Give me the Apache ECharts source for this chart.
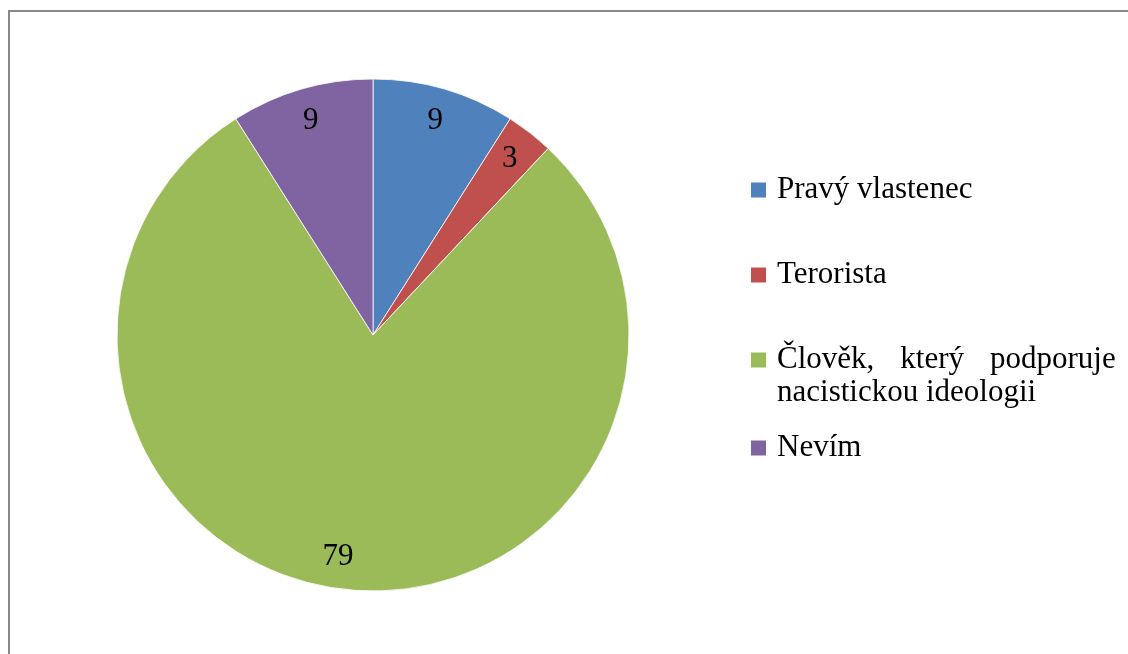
<!DOCTYPE html>
<html>
<head>
<meta charset="utf-8">
<script src="https://cdn.jsdelivr.net/npm/echarts@6/dist/echarts.min.js"></script>
<style>
html,body{margin:0;padding:0;background:#fff;}
#chart{width:1128px;height:654px;}
</style>
</head>
<body>
<div id="chart"></div>
<script>
const categories = ['Pravý vlastenec', 'Terorista', 'Člověk, který podporuje nacistickou ideologii', 'Nevím'];
const values = [9, 3, 79, 9];
const palette = ['#4F81BD', '#C0504D', '#9BBB59', '#8064A2'];

const FONT = "'Liberation Serif', 'Times New Roman', serif";
const FS = 31;
const LH = 33;

const chart = echarts.init(document.getElementById('chart'), null, {renderer: 'canvas'});

const pieData = categories.map((c, i) => ({name: c, value: values[i], itemStyle: {color: palette[i]}}));
const labelData = categories.map((c, i) => {
  const d = {name: c, value: values[i]};
  // the large slice's label sits slightly left of its bisector in the reference
  if (i === 2) d.label = {offset: [-14, 0]};
  return d;
});

function legendFormatter(name) {
  if (name === categories[2]) {
    const parts = name.split(' ');
    return '\n{w|' + parts[0] + '}{g| }{w|' + parts[1] + '}{g| }{w|' + parts[2] + '}\n{w|' + parts.slice(3).join(' ') + '}';
  }
  return name;
}

const legendTops = [173.5, 258.5, 310.5, 431.5];
const legends = categories.map((c, i) => ({
  data: [c],
  orient: 'vertical',
  left: 751,
  top: legendTops[i],
  padding: 0,
  icon: 'rect',
  itemWidth: 15,
  itemHeight: 15,
  itemStyle: {borderWidth: 0},
  selectedMode: false,
  formatter: legendFormatter,
  textStyle: {
    color: '#000',
    fontFamily: FONT,
    fontSize: FS,
    lineHeight: LH,
    padding: [0, 0, 0, 6],
    rich: {
      w: {fontFamily: FONT, fontSize: FS, lineHeight: LH, color: '#000'},
      g: {fontFamily: FONT, fontSize: FS, lineHeight: LH, width: 26}
    }
  }
}));

const option = {
  backgroundColor: '#fff',
  animation: false,
  legend: legends,
  graphic: [{
    type: 'rect',
    shape: {x: 9, y: 11, width: 1300, height: 1000},
    style: {fill: 'none', stroke: '#878787', lineWidth: 2},
    silent: true,
    z: 100
  }],
  series: [
    {
      type: 'pie',
      center: [373, 335],
      radius: [0, 256],
      startAngle: 90,
      clockwise: true,
      data: pieData,
      label: {show: false},
      labelLine: {show: false},
      itemStyle: {borderColor: '#ffffff', borderWidth: 0.8},
      emphasis: {disabled: true}
    },
    {
      type: 'pie',
      center: [373, 335],
      radius: [184, 256],
      startAngle: 90,
      clockwise: true,
      silent: true,
      data: labelData,
      itemStyle: {color: 'rgba(0,0,0,0)', borderWidth: 0},
      label: {
        show: true,
        position: 'inside',
        formatter: '{c}',
        color: '#000',
        fontFamily: FONT,
        fontSize: FS
      },
      labelLine: {show: false},
      emphasis: {disabled: true}
    }
  ]
};

chart.setOption(option);
</script>
</body>
</html>
